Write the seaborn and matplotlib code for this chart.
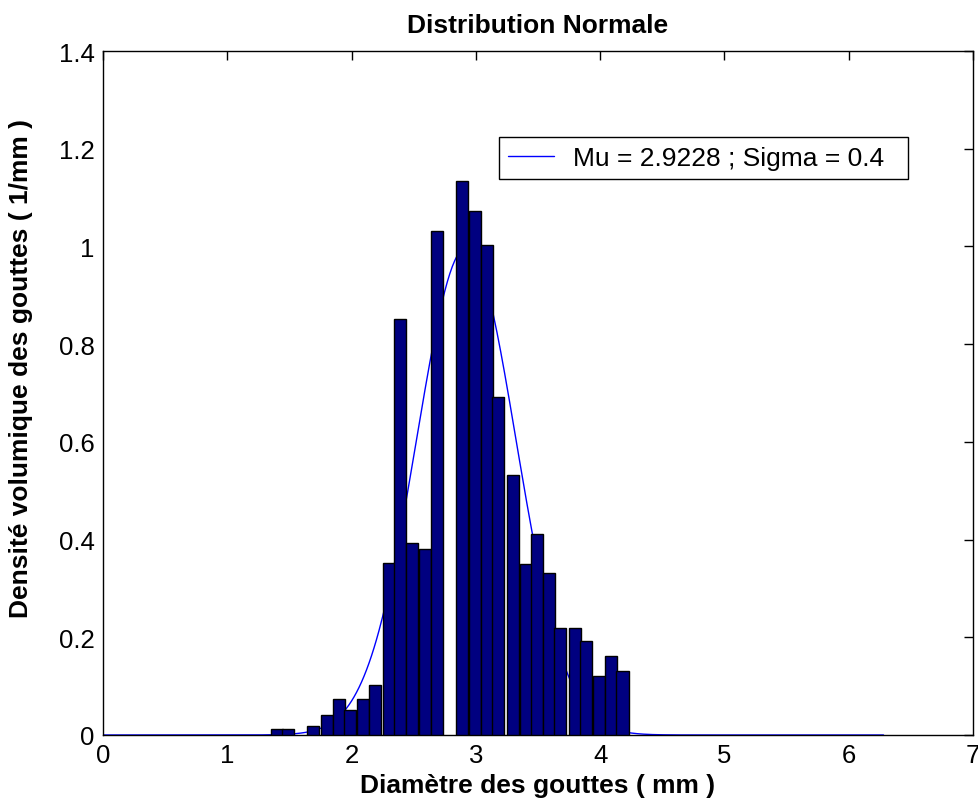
import numpy as np
import pandas as pd
import matplotlib
matplotlib.use("Agg")
import matplotlib.pyplot as plt
import seaborn as sns

# Histogram bins (centre of each bar, mm) and volume density (1/mm)
diam_centres = [1.40, 1.49, 1.69, 1.80, 1.90, 1.99, 2.09, 2.19, 2.30, 2.39,
                2.49, 2.59, 2.69, 2.89, 2.99, 3.09, 3.18, 3.30, 3.40, 3.49,
                3.59, 3.68, 3.80, 3.89, 3.99, 4.09, 4.18]
densite = [0.012, 0.012, 0.019, 0.041, 0.073, 0.052, 0.073, 0.102, 0.352, 0.851,
           0.393, 0.381, 1.032, 1.134, 1.072, 1.003, 0.692, 0.532, 0.351, 0.412,
           0.331, 0.220, 0.220, 0.193, 0.121, 0.162, 0.131]

# Fitted normal law
mu = 2.9228
sigma = 0.4
x_fit_max = 6.28

x_ticks = [0, 1, 2, 3, 4, 5, 6, 7]
y_ticks = [0, 0.2, 0.4, 0.6, 0.8, 1.0, 1.2, 1.4]
y_tick_labels = ["0", "0.2", "0.4", "0.6", "0.8", "1", "1.2", "1.4"]

BAR_WIDTH_MM = 0.097
TICK_FONT = 18.5
LABEL_FONT = 19

sns.set_style("white")
plt.rcParams["font.family"] = ["Liberation Sans", "DejaVu Sans"]
plt.rcParams.update({"text.color": "black", "axes.labelcolor": "black",
                     "xtick.color": "black", "ytick.color": "black"})

fig = plt.figure(figsize=(9.79, 8.12), dpi=100)
ax = fig.add_axes([103 / 979, 76 / 812, 870 / 979, 684 / 812])

df = pd.DataFrame({"diam": diam_centres, "dens": densite})
min_step = np.min(np.diff(np.unique(df["diam"])))
sns.barplot(data=df, x="diam", y="dens", native_scale=True,
            width=BAR_WIDTH_MM / min_step, color="#000080", saturation=1,
            edgecolor="black", linewidth=1.0, errorbar=None, ax=ax)
for p in ax.patches:
    p.set_zorder(3)

xs = np.linspace(0, x_fit_max, 629)
pdf = np.exp(-0.5 * ((xs - mu) / sigma) ** 2) / (sigma * np.sqrt(2 * np.pi))
sns.lineplot(x=xs, y=pdf, color="#0000FF", linewidth=1.0, sort=False,
             label=f"Mu = {mu} ; Sigma = {sigma}", ax=ax, zorder=2)

ax.set_xlim(0, 7)
ax.set_ylim(0, 1.4)
ax.set_xticks(x_ticks)
ax.set_xticklabels([str(t) for t in x_ticks])
ax.set_yticks(y_ticks)
ax.set_yticklabels(y_tick_labels)
ax.tick_params(direction="in", length=6.5, width=1.0, colors="black",
               labelsize=TICK_FONT, top=True, right=True, pad=6)
for s in ax.spines.values():
    s.set_visible(True)
    s.set_color("black")
    s.set_linewidth(1.0)

ax.set_title("Distribution Normale", fontsize=LABEL_FONT, fontweight="bold", pad=14)
ax.set_xlabel("Diamètre des gouttes ( mm )", fontsize=LABEL_FONT, fontweight="bold", labelpad=4)
ax.set_ylabel("Densité volumique des gouttes ( 1/mm )", fontsize=LABEL_FONT, fontweight="bold")
ax.yaxis.set_label_coords(-0.081, 0.537)

# legend box spans a fixed frame in figure pixels
lx0, ly_top, lw, lh = 499, 138, 409, 42
leg = ax.legend(loc="upper left",
                bbox_to_anchor=(lx0 / 979, 1 - (ly_top + lh) / 812, lw / 979, lh / 812),
                bbox_transform=fig.transFigure, mode="expand", fontsize=LABEL_FONT,
                frameon=True, fancybox=False, shadow=False, framealpha=1,
                edgecolor="black", borderpad=0.34, handlelength=1.75,
                handletextpad=0.7, borderaxespad=0)
leg.get_frame().set_linewidth(1.0)

fig.savefig("out.png", dpi=100, facecolor="white")
